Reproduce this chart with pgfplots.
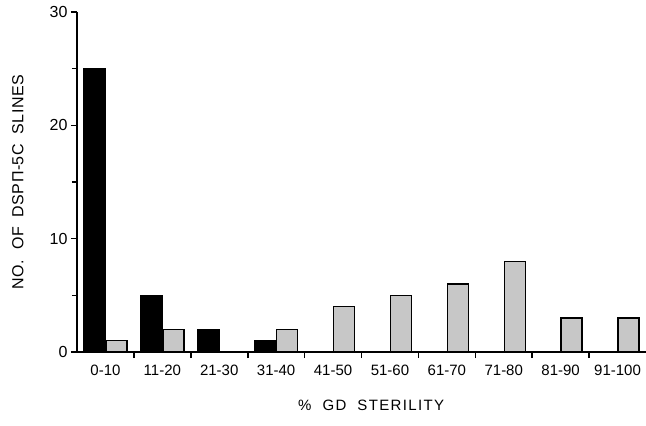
\documentclass[border=0pt]{standalone}
\usepackage{fontspec}
\setmainfont{Liberation Sans}
\usepackage{pgfplots}
\pgfplotsset{compat=1.18}
\definecolor{stipple}{gray}{0.78}

\begin{document}
\begin{tikzpicture}
\useasboundingbox (-77bp,-74bp) rectangle (569bp,352bp);
\begin{axis}[
    at={(0,0)}, anchor=south west,
    scale only axis, width=569bp, height=340bp,
    axis lines=left, axis line style={-, line width=2bp},
    xmin=-0.5, xmax=9.5, ymin=0, ymax=30,
    ybar=1bp, bar width=21bp,
    tick align=outside,
    major tick length=6bp, minor tick length=5bp,
    every tick/.style={black, line width=1.6bp},
    ytick={0,10,20,30}, minor ytick={5,15,25},
    xtick={0.5,1.5,...,8.5}, xticklabels={},
    extra x ticks={0,...,9},
    extra x tick labels={0-10,11-20,21-30,31-40,41-50,51-60,61-70,71-80,81-90,91-100},
    extra x tick style={major tick length=0pt},
    /pgf/number format/assume math mode=true,
    y tick label style={font=\fontsize{16bp}{18bp}\selectfont},
    x tick label style={font=\fontsize{15bp}{17bp}\selectfont, yshift=-10bp},
    xlabel={\addfontfeature{LetterSpace=9}\%\ \ GD\ \ STERILITY},
    ylabel={\addfontfeature{LetterSpace=3}NO.\ \ OF\ \ DSPΠ-5C\ \ SLINES},
    xlabel style={font=\fontsize{15bp}{17bp}\selectfont, at={(axis description cs:0.517,-0.156)}, anchor=center},
    ylabel style={font=\fontsize{16bp}{18bp}\selectfont, at={(axis description cs:-0.104,0.5)}, anchor=center, rotate=0},
]
\addplot[draw=black, fill=black, line width=1.5bp]
    coordinates {(0,25) (1,5) (2,2) (3,1)};
\addplot[draw=black, fill=stipple, line width=1.5bp]
    coordinates {(0,1) (1,2) (3,2) (4,4) (5,5) (6,6) (7,8) (8,3) (9,3)};
\end{axis}
\end{tikzpicture}
\end{document}
